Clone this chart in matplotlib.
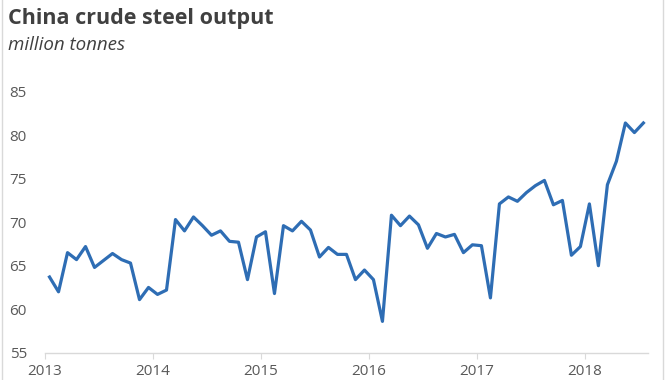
import matplotlib.pyplot as plt
from matplotlib.lines import Line2D

plt.rcParams['font.family'] = ['Open Sans', 'DejaVu Sans']

# monthly crude steel output, Jan 2013 - Jul 2018 (million tonnes)
y2013 = [63.7, 62.0, 66.5, 65.7, 67.2, 64.8, 65.6, 66.4, 65.7, 65.3, 61.1, 62.5]
y2014 = [61.7, 62.2, 70.3, 69.0, 70.6, 69.6, 68.5, 69.0, 67.8, 67.7, 63.4, 68.3]
y2015 = [68.9, 61.8, 69.6, 69.0, 70.1, 69.1, 66.0, 67.1, 66.3, 66.3, 63.4, 64.5]
y2016 = [63.4, 58.6, 70.8, 69.6, 70.7, 69.7, 67.0, 68.7, 68.3, 68.6, 66.5, 67.4]
y2017 = [67.3, 61.3, 72.1, 72.9, 72.4, 73.4, 74.2, 74.8, 72.0, 72.5, 66.2, 67.2]
y2018 = [72.1, 65.0, 74.3, 77.0, 81.4, 80.3, 81.4]
output = y2013 + y2014 + y2015 + y2016 + y2017 + y2018
years = ['2013', '2014', '2015', '2016', '2017', '2018']

fig = plt.figure(figsize=(6.7, 3.8), dpi=100)
ax = fig.add_axes([0.0672, 0.0718, 0.8998, 0.687])

x = [i + 0.5 for i in range(len(output))]
ax.plot(x, output, color='#2e6db4', lw=2.3, solid_joinstyle='round')

ax.set_xlim(0, len(output))
ax.set_ylim(55, 85)
ax.set_yticks(range(55, 86, 5))
ax.set_xticks([12 * i for i in range(len(years))])
ax.set_xticklabels(years)

for s in ['top', 'right', 'left']:
    ax.spines[s].set_visible(False)
ax.spines['bottom'].set_color('#d9d9d9')
ax.spines['bottom'].set_linewidth(1.0)
ax.tick_params(axis='y', length=0, pad=13, labelsize=11, labelcolor='#595959')
ax.tick_params(axis='x', length=4, color='#d9d9d9', pad=4, labelsize=11, labelcolor='#595959')

fig.text(0.012, 0.978, 'China crude steel output', fontsize=15.5, fontweight='bold',
         color='#404040', va='top')
fig.text(0.012, 0.905, 'million tonnes', fontsize=13.5, style='italic',
         color='#404040', va='top')

# chart area borders
fig.add_artist(Line2D([0.003, 0.003], [0, 1], color='#d9d9d9', lw=1, transform=fig.transFigure))
fig.add_artist(Line2D([0.989, 0.989], [0, 1], color='#d9d9d9', lw=1, transform=fig.transFigure))

fig.savefig('out.png', dpi=100)
